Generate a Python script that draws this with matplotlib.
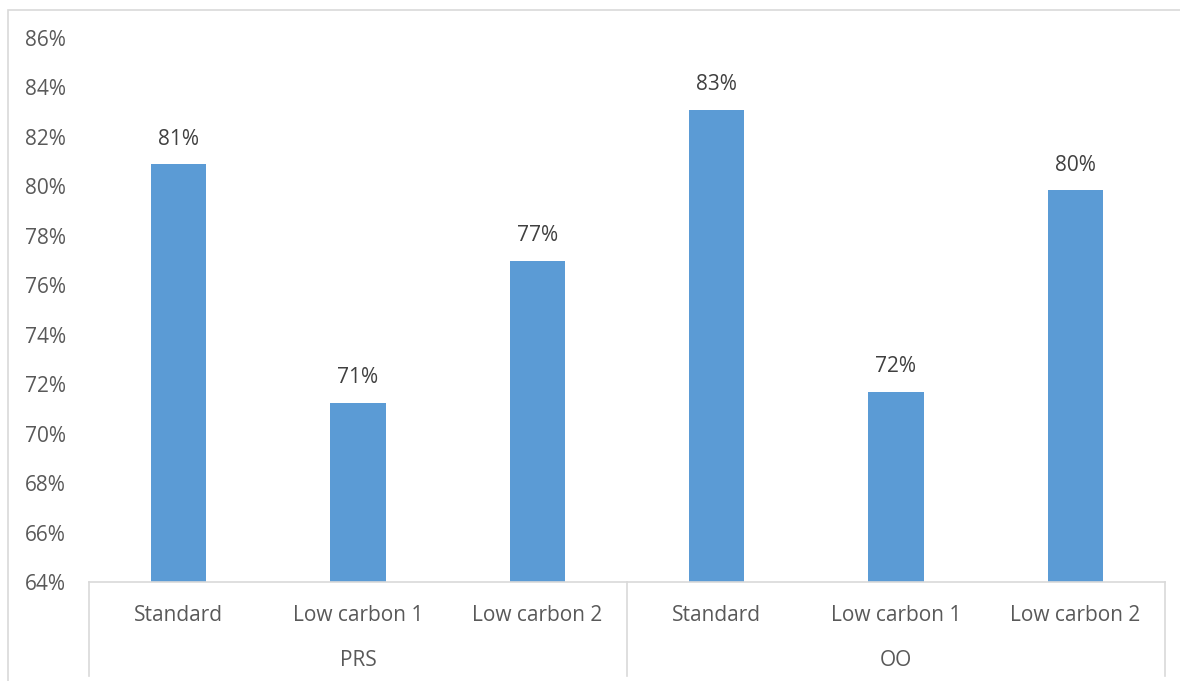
import matplotlib
matplotlib.use("Agg")
import matplotlib.pyplot as plt
from matplotlib.patches import Rectangle
from matplotlib.ticker import FuncFormatter, MultipleLocator
import matplotlib.transforms as mtransforms

# Data
groups = ["PRS", "OO"]
categories = ["Standard", "Low carbon 1", "Low carbon 2"]
values = {
    "PRS": [80.9, 71.25, 77.0],
    "OO": [83.1, 71.7, 79.85],
}
y_min, y_max, y_step = 64, 86, 2

W, H = 1180, 681
plt.rcParams["font.family"] = ["Open Sans", "DejaVu Sans"]
fig = plt.figure(figsize=(W / 100, H / 100), dpi=100)

left, right, bottom, top = 89, 1165, 582, 38
ax = fig.add_axes([left / W, (H - bottom) / H, (right - left) / W, (bottom - top) / H])

bar_color = "#5B9BD5"
text_color = "#595959"
line_color = "#D9D9D9"
fs = 15

xs, heights, labels = [], [], []
for gi, g in enumerate(groups):
    for ci, c in enumerate(categories):
        xs.append(gi * len(categories) + ci)
        heights.append(values[g][ci])
        labels.append(c)

ax.bar(xs, [h - y_min for h in heights], bottom=y_min, width=0.31,
       color=bar_color, zorder=2)
for x, h in zip(xs, heights):
    ax.annotate(f"{h:.0f}%", (x, h), xytext=(0, 18), textcoords="offset points",
                ha="center", va="center", fontsize=fs, color="#404040")

ax.set_xlim(-0.5, len(xs) - 0.5)
ax.set_ylim(y_min, y_max)
ax.yaxis.set_major_locator(MultipleLocator(y_step))
ax.yaxis.set_major_formatter(FuncFormatter(lambda v, p: f"{v:.0f}%"))
ax.tick_params(axis="y", length=0, pad=16.5, labelsize=fs, labelcolor=text_color)

ax.set_xticks(xs)
ax.set_xticklabels(labels)
ax.tick_params(axis="x", length=0, pad=16.5, labelsize=fs, labelcolor=text_color)

for s in ["top", "right", "left"]:
    ax.spines[s].set_visible(False)
ax.spines["bottom"].set_color(line_color)
ax.spines["bottom"].set_linewidth(1.2)

# Group separators and group labels beneath the category labels
trans = mtransforms.blended_transform_factory(ax.transData, ax.transAxes)
sep_depth = -(676 - bottom) / (bottom - top)
n = len(categories)
for gi in range(len(groups) + 1):
    xb = gi * n - 0.5
    ax.plot([xb, xb], [0, sep_depth], transform=trans, color=line_color,
            lw=1.2, clip_on=False)
for gi, g in enumerate(groups):
    ax.text(gi * n + (n - 1) / 2, -(660 - bottom) / (bottom - top), g,
            transform=trans, ha="center", va="center", fontsize=fs,
            color=text_color)

# Chart area border
fig.add_artist(Rectangle((8 / W, -0.1), 2, (H - 10) / H + 0.1,
                         transform=fig.transFigure, fill=False,
                         edgecolor=line_color, lw=1.2))

fig.savefig("out.png", dpi=100, facecolor="white")
